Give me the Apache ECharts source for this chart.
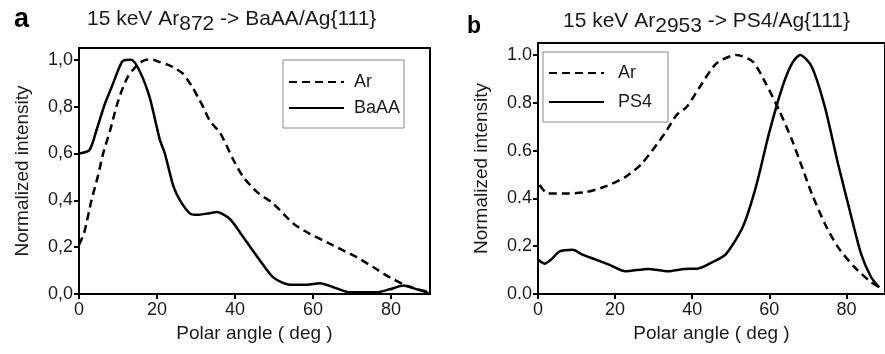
<!DOCTYPE html>
<html>
<head>
<meta charset="utf-8">
<script src="https://cdn.jsdelivr.net/npm/echarts@6/dist/echarts.min.js"></script>
<style>html,body{margin:0;padding:0;background:#fff;}#c{width:885px;height:354px;}</style>
</head>
<body>
<div id="c"></div>
<script>
// ---- Panel a data ----
const arA_angle = [0,1.3,3.2,4.8,6.2,8,9.6,11,12.6,14,15.5,17.3,19,20.7,23.3,25,26.7,28,29.2,30.5,31.8,33.5,36.2,39.6,42.1,45.6,49.8,55,59.2,65.2,71.2,75.5,79.7,84,88.3,90];
const arA_value = [0.21,0.26,0.40,0.50,0.60,0.70,0.80,0.87,0.93,0.96,0.985,1.0,1.0,0.99,0.975,0.96,0.94,0.91,0.88,0.84,0.80,0.74,0.687,0.572,0.50,0.436,0.386,0.30,0.257,0.207,0.157,0.114,0.071,0.036,0.014,0.01];
const baaa_angle = [0,2.7,4.5,6.6,8.3,10.4,11.3,13.4,15.6,18.1,20.7,22,24.2,25.9,28.5,30.2,33.5,35.3,38.7,42.1,46.4,49.8,54.1,58.4,61.8,65.2,69.5,76.3,79.7,83.2,86.6,89.6];
const baaa_value = [0.60,0.615,0.70,0.81,0.88,0.97,0.995,1.0,0.95,0.84,0.66,0.60,0.46,0.40,0.343,0.338,0.345,0.35,0.32,0.243,0.143,0.071,0.04,0.04,0.046,0.029,0.007,0.007,0.02,0.036,0.02,0.005];
// ---- Panel b data ----
const arB_angle = [0.4,2.6,6.4,12.4,17.5,22.7,27,32.8,36,38.6,42,46.3,51.4,55.7,59.1,62.5,65.9,68.5,71,74.4,77.8,82.1,86.4,88.5];
const arB_value = [0.456,0.42,0.42,0.426,0.45,0.49,0.547,0.67,0.75,0.783,0.867,0.965,1.0,0.972,0.88,0.77,0.643,0.53,0.42,0.294,0.196,0.112,0.049,0.028];
const ps4_angle = [0,1.7,3.4,5.6,9,11.5,15,18.4,22.7,28.6,33.7,38,41.4,45.7,48.8,53.1,56.5,59.9,63.4,65.9,68,71,74.4,77.8,81.3,83.8,86.4,88.5];
const ps4_value = [0.144,0.127,0.144,0.178,0.185,0.165,0.144,0.123,0.095,0.105,0.095,0.105,0.106,0.137,0.168,0.28,0.447,0.671,0.867,0.965,1.0,0.951,0.783,0.546,0.321,0.168,0.07,0.028];
// ---- tick labels ----
const xTicks = ['0','20','40','60','80'];
const yTicksA = ['0,0','0,2','0,4','0,6','0,8','1,0'];
const yTicksB = ['0.0','0.2','0.4','0.6','0.8','1.0'];
const legendA = ['Ar','BaAA'];
const legendB = ['Ar','PS4'];

const pair = (a, v) => a.map((x, i) => [x, v[i]]);
const FONT = 'Liberation Sans, Arial, sans-serif';
const TXT = '#1a1a1a';

function xAxisCfg(gi) {
  return {
    gridIndex: gi, type: 'value', min: 0, max: 90, interval: 20,
    name: 'Polar angle ( deg )', nameLocation: 'middle', nameGap: 26,
    nameTextStyle: { fontFamily: FONT, fontSize: 19, color: TXT },
    axisLine: { lineStyle: { color: '#000', width: 2 } },
    axisTick: { show: true, length: 5, lineStyle: { color: '#000', width: 2 } },
    axisLabel: { fontFamily: FONT, fontSize: 18, color: TXT, margin: 7, showMaxLabel: false,
      formatter: v => xTicks[Math.round(v / 20)] },
    splitLine: { show: false }
  };
}
function yAxisCfg(gi, labels) {
  return {
    gridIndex: gi, type: 'value', min: 0, max: 1.05, interval: 0.2,
    name: 'Normalized intensity', nameLocation: 'middle', nameGap: 47,
    nameTextStyle: { fontFamily: FONT, fontSize: 19, color: TXT },
    axisLine: { show: true, lineStyle: { color: '#000', width: 2 } },
    axisTick: { show: true, length: 5, lineStyle: { color: '#000', width: 2 } },
    axisLabel: { fontFamily: FONT, fontSize: 18, color: TXT, margin: 6, showMaxLabel: false,
      formatter: v => labels[Math.round(v / 0.2)] },
    splitLine: { show: false }
  };
}
function lineSeries(name, gi, data, dashed) {
  return {
    name: name, type: 'line', xAxisIndex: gi, yAxisIndex: gi,
    data: data, symbol: 'none', showSymbol: false, smooth: 0.25,
    lineStyle: { color: '#000', width: 2.5, type: dashed ? [8, 5] : 'solid' },
    itemStyle: { color: '#000' }, z: 3
  };
}
function titleCfg(left, top, main, sub, rest) {
  const base = { fontFamily: FONT, fontSize: 21, fontWeight: 'normal', color: TXT, lineHeight: 32 };
  return {
    left: left, top: top, padding: 0,
    text: '{n|' + main + '}{s|' + sub + '}{n|' + rest + '}}',
    textStyle: Object.assign({}, base, { rich: {
      n: Object.assign({}, base, { verticalAlign: 'middle' }),
      s: Object.assign({}, base, { verticalAlign: 'bottom' }) } })
  };
}
function legendCfg(data, left, top, gap, padding, textPad) {
  return {
    data: data, orient: 'vertical', left: left, top: top, itemWidth: 55, itemHeight: 18, itemGap: gap,
    padding: padding, borderColor: '#888', borderWidth: 1, backgroundColor: '#fff',
    selectedMode: false,
    itemStyle: { color: 'rgba(0,0,0,0)', borderColor: 'rgba(0,0,0,0)', borderWidth: 0, opacity: 0 },
    textStyle: { fontFamily: FONT, fontSize: 18, color: TXT, padding: [0, 0, 0, textPad] }
  };
}

const chart = echarts.init(document.getElementById('c'));
chart.setOption({
  animation: false,
  backgroundColor: '#fff',
  title: [
    titleCfg(87, 3, '15 keV Ar', '872', ' -> BaAA/Ag{111'),
    titleCfg(563, 5, '15 keV Ar', '2953', ' -> PS4/Ag{111')
  ],
  graphic: [
    { type: 'text', left: 14, top: 6, style: { text: 'a', font: 'bold 27px ' + FONT, fill: '#000' } },
    { type: 'text', left: 467, top: 15, style: { text: 'b', font: 'bold 23px ' + FONT, fill: '#000' } }
  ],
  grid: [
    { left: 79, top: 48, width: 351, height: 246, show: true, borderColor: '#000', borderWidth: 2 },
    { left: 538, top: 43, width: 352, height: 251, show: true, borderColor: '#000', borderWidth: 2 }
  ],
  xAxis: [xAxisCfg(0), xAxisCfg(1)],
  yAxis: [yAxisCfg(0, yTicksA), yAxisCfg(1, yTicksB)],
  legend: [
    legendCfg(legendA, 283, 60, 8, [13, 4, 11, 5], 5),
    legendCfg(legendB, 543, 52, 11, [12, 16, 11, 5], 9)
  ],
  series: [
    lineSeries('Ar', 0, pair(arA_angle, arA_value), true),
    lineSeries('BaAA', 0, pair(baaa_angle, baaa_value), false),
    lineSeries('Ar', 1, pair(arB_angle, arB_value), true),
    lineSeries('PS4', 1, pair(ps4_angle, ps4_value), false)
  ]
});
</script>
</body>
</html>
